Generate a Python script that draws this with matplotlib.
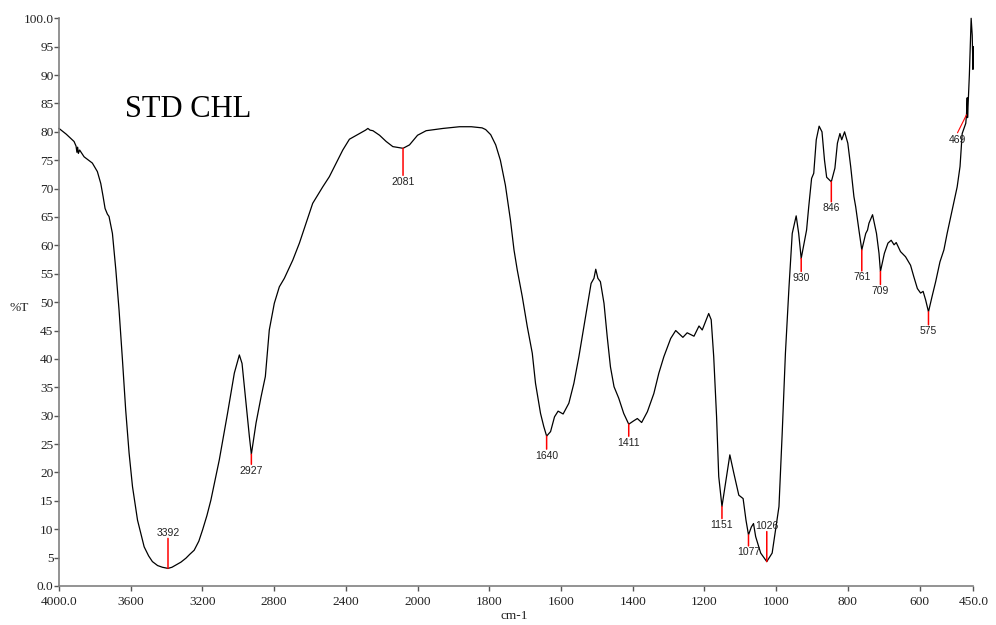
import matplotlib
matplotlib.use("Agg")
import matplotlib.pyplot as plt
import numpy as np

# spectrum: wavenumber (cm-1) / %T
wn = [4000, 3960, 3916, 3905, 3900, 3896, 3892, 3885, 3860, 3814, 3786, 3767,
      3754, 3743, 3730, 3721, 3702, 3683, 3665, 3646, 3628, 3609, 3590, 3562,
      3525, 3500, 3479, 3450, 3423, 3392, 3370, 3348, 3320, 3292, 3270, 3246,
      3220, 3199, 3175, 3153, 3106, 3060, 3022,
      2994, 2979, 2957, 2938, 2927, 2901, 2873, 2849, 2827, 2799, 2771, 2743,
      2696, 2659, 2622, 2585, 2529, 2492, 2454, 2417, 2380, 2324, 2290, 2277,
      2265, 2249, 2212, 2175, 2138, 2081, 2045, 2000, 1976, 1929, 1883, 1850,
      1820, 1810, 1796, 1782, 1769, 1755, 1741, 1731, 1722, 1708, 1694, 1680,
      1671, 1657, 1648, 1640, 1629, 1618, 1608, 1594, 1578, 1564, 1550, 1536,
      1527, 1516, 1508, 1503, 1497, 1490, 1480, 1471, 1462, 1452, 1439, 1425,
      1411, 1397, 1387, 1375, 1359, 1341, 1327, 1313, 1294, 1280, 1260, 1248,
      1229, 1215, 1206, 1188, 1181, 1174, 1166, 1160, 1151, 1141, 1129, 1118,
      1104, 1092, 1084, 1077, 1069, 1063, 1057, 1043, 1026, 1011, 992, 983,
      974, 964, 955, 944, 937, 930, 915, 909, 901, 895, 888, 880, 872, 865,
      859, 846, 836, 829, 822, 817, 809, 800, 792, 783, 778, 769, 761, 750,
      745, 741, 731, 720, 713, 709, 698, 688, 679, 671, 665, 653, 639, 625,
      616, 606, 597, 590, 583, 575, 565, 555, 543, 532, 523, 509, 495, 487,
      481, 471, 469, 467, 466, 461, 456, 453, 451, 450]
trans = [80.6, 79.6, 78.3, 77.5, 76.4, 77.3, 76.2, 76.8, 75.6, 74.5, 73.0, 70.9,
         68.6, 66.5, 65.5, 65.1, 62.1, 55.7, 48.6, 39.8, 31.0, 23.4, 17.5, 11.6,
         6.9, 5.3, 4.3, 3.6, 3.3, 3.1, 3.3, 3.7, 4.2, 4.9, 5.6, 6.3,
         7.9, 9.9, 12.4, 15.1, 22.2, 30.4, 37.5,
         40.7, 39.2, 32.2, 26.3, 23.2, 28.7, 33.3, 36.9, 45.1, 49.8, 52.7, 54.2,
         57.4, 60.4, 63.9, 67.4, 70.3, 72.1, 74.5, 76.8, 78.7, 79.7, 80.3, 80.6,
         80.3, 80.2, 79.4, 78.3, 77.4, 77.1, 77.7, 79.4, 80.2, 80.6, 80.9, 80.9,
         80.7, 80.4, 79.5, 77.7, 75.0, 70.6, 64.5, 59.2, 55.7, 51.0, 45.7, 41.0,
         35.7, 30.4, 28.1, 26.4, 27.2, 29.8, 30.8, 30.3, 32.2, 35.7, 40.4, 45.7,
         49.2, 53.3, 54.2, 55.8, 54.2, 53.6, 49.8, 43.9, 38.6, 35.1, 33.1, 30.4,
         28.5, 29.1, 29.5, 28.8, 30.7, 33.9, 37.5, 40.4, 43.6, 45.0, 43.8, 44.6,
         44.0, 45.8, 45.1, 48.0, 46.9, 40.4, 29.8, 19.3, 14.0, 18.1, 23.1, 19.9,
         16.0, 15.4, 11.6, 9.0, 10.4, 11.0, 8.7, 5.8, 4.3, 5.8, 14.0, 26.9,
         41.0, 52.7, 62.1, 65.2, 62.1, 57.7, 62.7, 66.8, 71.8, 72.7, 78.6, 81.0,
         80.0, 75.0, 72.0, 71.2, 73.6, 78.0, 79.7, 78.6, 80.0, 78.0, 73.9, 68.6,
         66.8, 62.7, 59.2, 62.1, 62.7, 63.9, 65.4, 62.1, 58.6, 55.4, 58.6, 60.4,
         60.9, 60.1, 60.5, 58.9, 58.0, 56.5, 54.5, 52.4, 51.6, 51.9, 50.4, 48.3,
         51.0, 53.6, 57.1, 59.2, 62.1, 66.2, 70.3, 73.9, 79.7, 81.5, 83.0, 86.0,
         82.5, 90.0, 100.0, 97.0, 91.0, 95.0]

peak_wn = [3392, 2927, 2081, 1640, 1411, 1151, 1077, 1026, 930, 846, 761, 709, 575]
peak_t = [3.1, 23.2, 77.1, 26.4, 28.5, 14.0, 9.0, 4.3, 57.7, 71.2, 59.2, 55.4, 48.3]
# red marker length in pixels (negative = drawn upwards, label above)
peak_len = [-30, 10, 27, 13, 12, 12, 11, -30, 13, 20, 21, 13, 13]

xticks = [4000, 3600, 3200, 2800, 2400, 2000, 1800, 1600, 1400, 1200, 1000, 800, 600, 450]
xticklabels = ["4000.0", "3600", "3200", "2800", "2400", "2000", "1800", "1600",
               "1400", "1200", "1000", "800", "600", "450.0"]
yticks = list(range(0, 101, 5))
yticklabels = ["0.0"] + [str(v) for v in yticks[1:-1]] + ["100.0"]


# spectrometer style axis: 400 cm-1 per division above 2000, 200 below
def fwd(x):
    x = np.asarray(x, dtype=float)
    return np.where(x > 2000, 2000 + (x - 2000) / 2.0, x)


def inv(u):
    u = np.asarray(u, dtype=float)
    return np.where(u > 2000, 2000 + (u - 2000) * 2.0, u)


serif = "Liberation Serif"
sans = "Liberation Sans"

fig = plt.figure(figsize=(9.96, 6.25), dpi=100)
ax = fig.add_axes([59 / 996, 1 - 586 / 625, (973.3 - 59) / 996, (586 - 18.3) / 625])
ax.set_xscale("function", functions=(fwd, inv))
ax.plot(wn, trans, color="black", lw=0.9, clip_on=False)
ax.set_xlim(4000, 450)
ax.set_ylim(0, 100)

for s in ["top", "right"]:
    ax.spines[s].set_visible(False)
for s in ["left", "bottom"]:
    ax.spines[s].set_color("#808080")
    ax.spines[s].set_linewidth(1.2)

ax.set_xticks(xticks)
ax.set_xticklabels(xticklabels, fontfamily=serif, fontsize=9.6, color="#222222")
ax.set_yticks(yticks)
ax.set_yticklabels(yticklabels, fontfamily=serif, fontsize=9.6, color="#222222")
ax.xaxis.set_minor_locator(matplotlib.ticker.NullLocator())
ax.tick_params(axis="x", direction="out", length=3.5, width=1, color="#555555", pad=4)
ax.tick_params(axis="y", direction="out", length=3.5, width=1, color="#555555", pad=0.5)

# peak markers
for w, t, L in zip(peak_wn, peak_t, peak_len):
    ax.annotate("", xy=(w, t), xytext=(0, -L), textcoords="offset pixels",
                arrowprops=dict(arrowstyle="-", color="red", lw=1.1, shrinkA=0, shrinkB=0))
    if L > 0:
        ax.annotate(str(w), xy=(w, t), xytext=(0, -L - 1.5), textcoords="offset pixels",
                    ha="center", va="top", fontfamily=sans, fontsize=7.5, color="#222222")
    else:
        ax.annotate(str(w), xy=(w, t), xytext=(0, -L + 0.5), textcoords="offset pixels",
                    ha="center", va="bottom", fontfamily=sans, fontsize=7.5, color="#222222")

# 469 is marked with a slanted tick
ax.annotate("", xy=(469, 83.0), xytext=(-9, -18), textcoords="offset pixels",
            arrowprops=dict(arrowstyle="-", color="red", lw=0.8, shrinkA=0, shrinkB=0))
ax.annotate("469", xy=(469, 83.0), xytext=(-9, -20), textcoords="offset pixels",
            ha="center", va="top", fontfamily=sans, fontsize=7.5, color="#222222")

fig.text(125 / 996, 1 - 117 / 625, "STD CHL", fontfamily=serif, fontsize=22,
         ha="left", va="baseline")
fig.text(19 / 996, 1 - 308 / 625, "%T", fontfamily=serif, fontsize=9.6,
         ha="center", va="center", color="#222222")
fig.text(514 / 996, 1 - 616 / 625, "cm-1", fontfamily=serif, fontsize=9.6,
         ha="center", va="center", color="#222222")

fig.savefig("out.png", dpi=100)
